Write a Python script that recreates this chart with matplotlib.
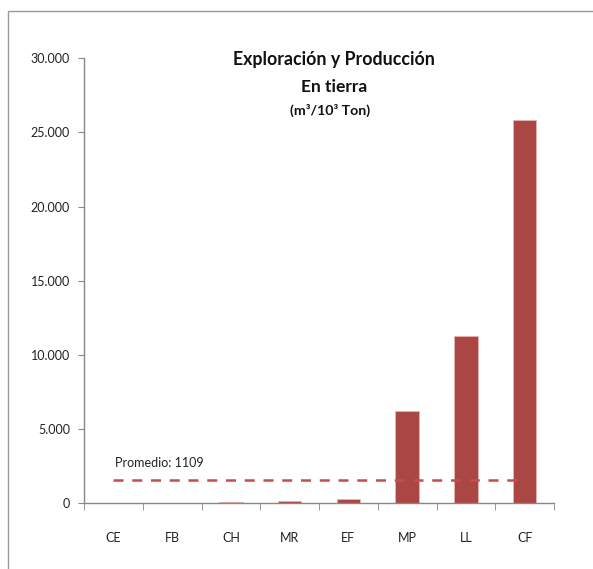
import matplotlib
matplotlib.use("Agg")
import matplotlib.pyplot as plt
from matplotlib.patches import Rectangle
import numpy as np

categories = ["CE", "FB", "CH", "MR", "EF", "MP", "LL", "CF"]
values = [0, 40, 90, 175, 310, 6220, 11280, 25850]
promedio_line = 1570
promedio_label = "Promedio: 1109"
yticks = [0, 5000, 10000, 15000, 20000, 25000, 30000]
ytick_labels = ["0", "5.000", "10.000", "15.000", "20.000", "25.000", "30.000"]

plt.rcParams['font.family'] = ['Lato', 'DejaVu Sans']

fig = plt.figure(figsize=(5.93, 5.69), dpi=100)
ax = fig.add_axes([84/593, 1-503.3/569, 470/593, (503.3-58.3)/569])

x = np.arange(len(categories))
ax.bar(x, values, width=0.4, color='#AA4644', edgecolor='#E8B4B2', linewidth=0.6, zorder=2)
ax.plot([x[0], x[-1]], [promedio_line, promedio_line], color='#C0504D',
        linestyle=(0, (4, 3.5)), linewidth=1.8, zorder=3)
ax.text(x[0] + 0.03, 2750, promedio_label, fontsize=9, color='#222222', va='center', ha='left')

ax.set_xlim(-0.5, len(categories) - 0.5)
ax.set_ylim(0, 30000)
ax.set_yticks(yticks)
ax.set_yticklabels(ytick_labels, fontsize=9, color='#222222')
ax.set_xticks(x)
ax.set_xticklabels(categories, fontsize=9, color='#222222')
ax.set_xticks(np.arange(-0.5, len(categories)), minor=True)
ax.tick_params(axis='x', which='major', length=0, pad=21)
ax.tick_params(axis='x', which='minor', length=5, color='#888888', direction='out')
ax.tick_params(axis='y', which='major', length=4, color='#888888', pad=6)

for s in ['top', 'right']:
    ax.spines[s].set_visible(False)
for s in ['left', 'bottom']:
    ax.spines[s].set_color('#888888')
    ax.spines[s].set_linewidth(1.0)

fig.text(334/593, 1-59/569, "Exploración y Producción", fontsize=12.8, fontweight='bold',
         ha='center', va='center', color='#111111')
fig.text(334/593, 1-86.7/569, "En tierra", fontsize=12.5, fontweight='bold',
         ha='center', va='center', color='#111111')
fig.text(330/593, 1-110.5/569, "(m³/10³ Ton)", fontsize=10.2, fontweight='bold',
         ha='center', va='center', color='#111111')

fig.patches.append(Rectangle((7.6/593, -0.1), 1.2, 1 - 11.3/569 + 0.1,
                             transform=fig.transFigure, fill=False,
                             edgecolor='#9a9a9a', linewidth=1.0))

fig.savefig("out.png", dpi=100)
